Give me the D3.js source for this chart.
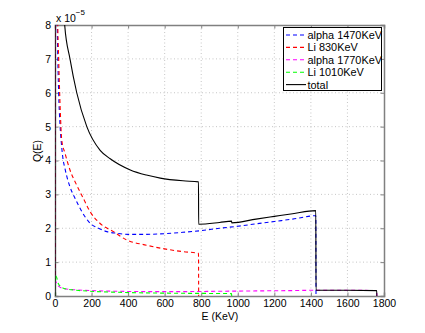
<!DOCTYPE html>
<html>
<head>
<meta charset="utf-8">
<script src="https://cdn.jsdelivr.net/npm/d3@7"></script>
<style>
body { margin: 0; background: #fff; }
text { font-family: "Liberation Sans", Arial, sans-serif; font-size: 10px; fill: #000; }
</style>
</head>
<body>
<script>
// values in units of 1e-5
var xTicks = [0,200,400,600,800,1000,1200,1400,1600,1800];
var yTicks = [0,1,2,3,4,5,6,7,8];

var seriesNames = ["alpha 1470KeV","Li 830KeV","alpha 1770KeV","Li 1010KeV","total"];

var alpha1470E = [0,1,6,10,14,20,27,35,42,55,82,110,146,192,238,284,340,400,500,600,700,800,900,1000,1100,1200,1300,1427,1428];
var alpha1470Q = [0,40,11,8.8,7.4,6.0,5.1,4.5,4.12,3.75,3.22,2.88,2.5,2.15,2.0,1.9,1.85,1.82,1.82,1.84,1.88,1.93,2.0,2.06,2.13,2.2,2.27,2.37,0];

var li830E = [0,1,8,14,20,28,37,55,82,119,155,192,247,320,390,500,600,700,785,786];
var li830Q = [0,40,11,8.3,7.0,5.6,4.6,4.21,3.72,3.27,2.88,2.49,2.14,1.9,1.66,1.5,1.39,1.31,1.26,0];

var alpha1770E = [0,1,9,18,46,119,192,338,521,700,900,1100,1300,1427,1600,1760,1761];
var alpha1770Q = [0,0.45,0.38,0.3,0.22,0.18,0.16,0.14,0.13,0.13,0.14,0.15,0.16,0.17,0.17,0.16,0];

var li1010E = [0,1,9,18,46,119,192,338,521,700,966,967];
var li1010Q = [0,0.6,0.55,0.37,0.23,0.17,0.14,0.11,0.09,0.08,0.07,0];

var totalE = [0,1,10,30,53,82,119,174,247,302,412,500,576,700,785,786,900,966,967,1100,1200,1300,1427,1428,1600,1760,1761];
var totalQ = [0,80,22,11,8.0,7.0,6.0,5.0,4.3,4.05,3.72,3.57,3.48,3.4,3.37,2.12,2.17,2.21,2.16,2.27,2.35,2.43,2.52,0.17,0.17,0.16,0];

var colores = ["#0000ff","#ff0000","#ff00ff","#00ff00","#000000"];

function juntar(e, q){
    return e.map(function(d,i){ return [d, q[i]]; });
}

function graficar(){
    var w = 425, h = 333;
    var left = 55, right = 384, top = 25, bottom = 296;

    var series = [
        juntar(alpha1470E, alpha1470Q),
        juntar(li830E, li830Q),
        juntar(alpha1770E, alpha1770Q),
        juntar(li1010E, li1010Q),
        juntar(totalE, totalQ)
    ];

    var x = d3.scaleLinear().domain([0,1800]).range([left,right]);
    var y = d3.scaleLinear().domain([0,8]).range([bottom,top]);

    var svg = d3.select("body")
        .append("svg")
        .attr("width", w)
        .attr("height", h);

    svg.append("rect")
        .attr("x",0).attr("y",0).attr("width",w).attr("height",h)
        .attr("fill","#fff");

    svg.append("clipPath")
        .attr("id","area")
        .append("rect")
        .attr("x",left).attr("y",top)
        .attr("width",right-left).attr("height",bottom-top);

    // grid
    svg.selectAll("line.gx")
        .data(xTicks.slice(1,-1))
        .enter().append("line")
        .attr("class","gx")
        .attr("x1",function(d){ return x(d); })
        .attr("x2",function(d){ return x(d); })
        .attr("y1",top).attr("y2",bottom)
        .attr("stroke","#b8b8b8")
        .attr("stroke-width",0.8)
        .attr("stroke-dasharray","1,2.5");

    svg.selectAll("line.gy")
        .data(yTicks.slice(1,-1))
        .enter().append("line")
        .attr("class","gy")
        .attr("y1",function(d){ return y(d); })
        .attr("y2",function(d){ return y(d); })
        .attr("x1",left).attr("x2",right)
        .attr("stroke","#b8b8b8")
        .attr("stroke-width",0.8)
        .attr("stroke-dasharray","1,2.5");

    // axes, ticks pointing inward
    var axisColor = "#808080";
    var fmt = d3.format("d");
    var ax = [
        svg.append("g").attr("transform","translate(0,"+bottom+")").call(d3.axisBottom(x).tickValues(xTicks).tickFormat(fmt).tickSize(-3.5).tickPadding(4)),
        svg.append("g").attr("transform","translate(0,"+top+")").call(d3.axisTop(x).tickValues(xTicks).tickSize(-3.5).tickFormat("")),
        svg.append("g").attr("transform","translate("+left+",0)").call(d3.axisLeft(y).tickValues(yTicks).tickFormat(fmt).tickSize(-3.5).tickPadding(4)),
        svg.append("g").attr("transform","translate("+right+",0)").call(d3.axisRight(y).tickValues(yTicks).tickSize(-3.5).tickFormat(""))
    ];
    ax.forEach(function(g){
        g.select(".domain").attr("stroke",axisColor).attr("stroke-width",1.5);
        g.selectAll(".tick line").attr("stroke",axisColor);
        g.selectAll(".tick text").attr("fill","#000").style("font-size","10.5px")
            .style("font-family","'Liberation Sans', Arial, sans-serif");
    });

    var linea = d3.line()
        .x(function(d){ return x(d[0]); })
        .y(function(d){ return y(d[1]); })
        .curve(d3.curveMonotoneX);

    svg.append("g")
        .attr("clip-path","url(#area)")
        .selectAll("path")
        .data(series)
        .enter().append("path")
        .attr("d", linea)
        .attr("fill","none")
        .attr("stroke",function(d,i){ return colores[i]; })
        .attr("stroke-width",1.1)
        .attr("stroke-dasharray",function(d,i){ return i==4 ? null : "4,3"; });

    // legend
    var lg = svg.append("g");
    lg.append("rect")
        .attr("x",283.5).attr("y",27.5)
        .attr("width",98).attr("height",63)
        .attr("fill","#fff")
        .attr("stroke","#000")
        .attr("stroke-width",1);
    var filas = lg.selectAll("g")
        .data(seriesNames)
        .enter().append("g")
        .attr("transform",function(d,i){ return "translate(0,"+(35+i*12.4)+")"; });
    filas.append("line")
        .attr("x1",286).attr("x2",306)
        .attr("y1",0).attr("y2",0)
        .attr("stroke",function(d,i){ return colores[i]; })
        .attr("stroke-width",1.1)
        .attr("stroke-dasharray",function(d,i){ return i==4 ? null : "4,3"; });
    filas.append("text")
        .text(function(d){ return d; })
        .attr("x",307.5)
        .attr("y",4)
        .style("font-size","10.9px");

    // labels
    svg.append("text")
        .text("E (KeV)")
        .attr("x",220)
        .attr("y",320)
        .attr("text-anchor","middle")
        .style("font-size","10.5px");

    svg.append("text")
        .text("Q(E)")
        .attr("transform","translate(41,151) rotate(-90)")
        .attr("text-anchor","middle")
        .style("font-size","10.5px");

    var exp = svg.append("text")
        .attr("x",56)
        .attr("y",21.5)
        .style("font-size","10.5px");
    exp.append("tspan").text("x 10");
    exp.append("tspan").text("\u22125").attr("dy",-7).style("font-size","8px");
}

graficar();
</script>
</body>
</html>
